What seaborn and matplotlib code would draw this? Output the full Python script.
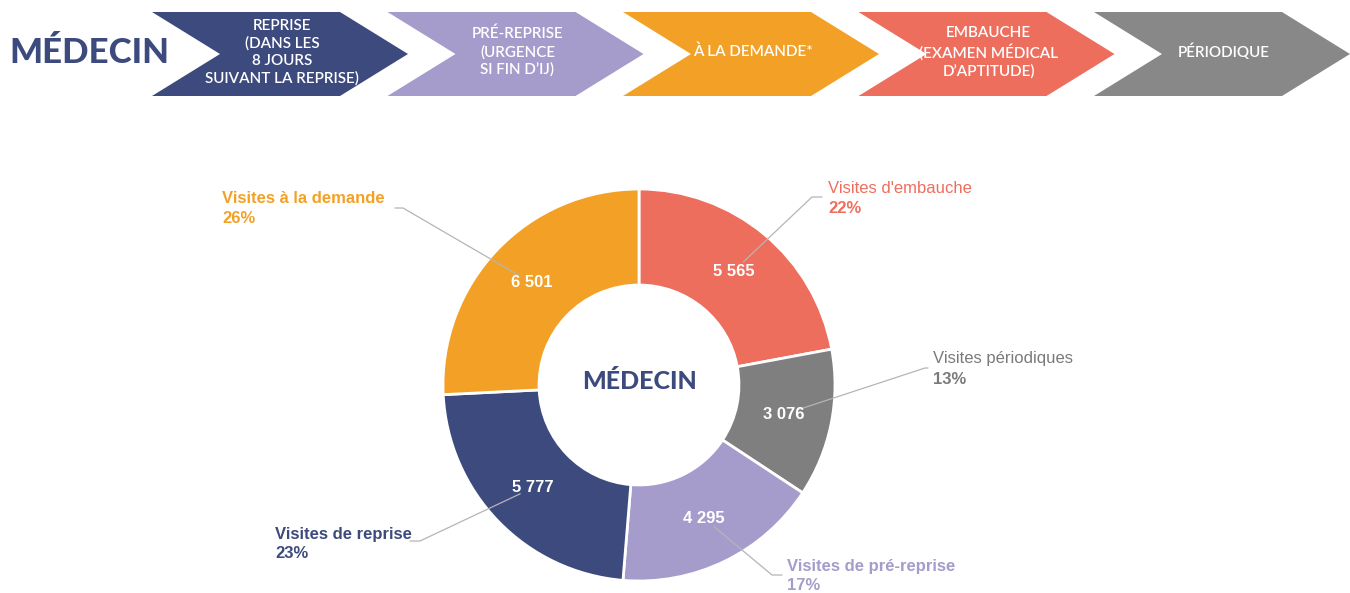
import numpy as np
import matplotlib
matplotlib.use("Agg")
import matplotlib.pyplot as plt
from matplotlib.patches import Polygon
import seaborn as sns

# --- données du graphique ---
categories = ["Visites d'embauche", "Visites périodiques", "Visites de pré-reprise",
              "Visites de reprise", "Visites à la demande"]
values = [5565, 3076, 4295, 5777, 6501]
pct_labels = ["22%", "13%", "17%", "23%", "26%"]
slice_colors = ["#ee6e5e", "#7f7f7f", "#a59ccb", "#3d4a7d", "#f3a126"]
label_colors = ["#ee6e5e", "#7a7a7a", "#a59ccb", "#3d4a7d", "#f3a126"]
name_bold = [False, False, True, True, True]

steps = ["REPRISE\n(DANS LES\n8 JOURS\nSUIVANT LA REPRISE)",
         "PRÉ-REPRISE\n(URGENCE\nSI FIN D’IJ)",
         "À LA DEMANDE*",
         "EMBAUCHE\n(EXAMEN MÉDICAL\nD’APTITUDE)",
         "PÉRIODIQUE"]
step_colors = ["#3d4a7d", "#a59ccb", "#f3a126", "#ee6e5e", "#888888"]

# positions des étiquettes extérieures (pixels) : coude, fin du trait, texte
elbows = [(812, 197), (925, 368), (772, 575), (420, 541), (403, 208)]
ends = [(822, 197), (928, 368), (782, 575), (410, 541), (395, 208)]
label_pos = [(828, 188), (933, 359), (787, 566), (275, 534), (222, 198)]

navy = "#3d4a7d"

sns.set_theme(style="white")
plt.rcParams["font.family"] = ["Liberation Sans", "DejaVu Sans"]

W, H = 1350, 593
fig = plt.figure(figsize=(W / 100, H / 100), dpi=100)
bg = fig.add_axes([0, 0, 1, 1])
bg.set_xlim(0, W)
bg.set_ylim(H, 0)
bg.axis("off")

# --- bandeau du haut ---
bg.text(9, 53, "MÉDECIN", family=["Lato", "DejaVu Sans"], weight="black",
        fontsize=25, color=navy, va="center", ha="left")
for i, (txt, col) in enumerate(zip(steps, step_colors)):
    x0 = 152 + i * 235.5
    pts = [(x0, 12), (x0 + 188, 12), (x0 + 256, 54), (x0 + 188, 96), (x0, 96), (x0 + 68, 54)]
    bg.add_patch(Polygon(pts, closed=True, fc=col, ec="none"))
    bg.text(x0 + 130, 52, txt, ha="center", va="center", color="white",
            family=["Lato", "DejaVu Sans"], fontsize=11, linespacing=1.3, weight="semibold")

# --- anneau ---
cx, cy, R = 639, 385, 196
ax = fig.add_axes([(cx - R) / W, (H - cy - R) / H, 2 * R / W, 2 * R / H])
wedges, _ = ax.pie(values, colors=slice_colors, startangle=90, counterclock=False,
                   radius=1, wedgeprops=dict(width=0.49, edgecolor="white", linewidth=2))
ax.set_xlim(-1, 1)
ax.set_ylim(-1, 1)


def px2d(px, py):
    return (px - cx) / R, (cy - py) / R


for w, v, name, pct, lc, bold, el, en, lp in zip(wedges, values, categories, pct_labels,
                                                   label_colors, name_bold, elbows, ends, label_pos):
    theta = np.deg2rad((w.theta1 + w.theta2) / 2)
    lx, ly = 0.755 * np.cos(theta), 0.755 * np.sin(theta)
    ax.text(lx, ly, f"{v:,}".replace(",", " "), ha="center", va="center",
            color="white", fontsize=12, weight="bold", zorder=5)
    ex, ey = px2d(*el)
    d = np.hypot(ex - lx, ey - ly)
    sx, sy = lx + (ex - lx) * 0.07 / d, ly + (ey - ly) * 0.07 / d
    nx, ny = px2d(*en)
    ax.plot([sx, ex, nx], [sy, ey, ny], color="#b5b5b5", lw=0.9, clip_on=False, zorder=4)
    tx, ty = px2d(*lp)
    ax.text(tx, ty, name, ha="left", va="center", color=lc, fontsize=12,
            weight="bold" if bold else "normal")
    ax.text(tx, ty - 20 / R, pct, ha="left", va="center", color=lc, fontsize=12, weight="bold")

ax.text(0, 0.02, "MÉDECIN", ha="center", va="center", color=navy,
        family=["Lato", "DejaVu Sans"], weight="black", fontsize=18)

fig.savefig("out.png", dpi=100)
